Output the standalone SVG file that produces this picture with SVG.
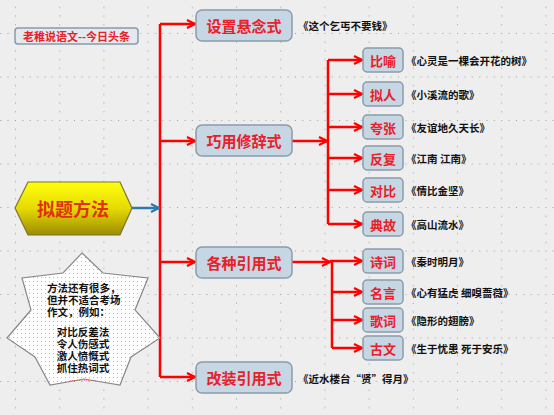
<svg xmlns="http://www.w3.org/2000/svg" width="554" height="415" viewBox="0 0 554 415">
<defs>
<pattern id="grid" patternUnits="userSpaceOnUse" x="15" y="33" width="44.2" height="43.5">
<rect x="0" y="0" width="1" height="1" fill="#9a9a9a"/>
<rect x="7.4" y="0" width="1" height="1" fill="#9a9a9a"/>
<rect x="14.7" y="0" width="1" height="1" fill="#9a9a9a"/>
<rect x="22.1" y="0" width="1" height="1" fill="#9a9a9a"/>
<rect x="29.5" y="0" width="1" height="1" fill="#9a9a9a"/>
<rect x="36.8" y="0" width="1" height="1" fill="#9a9a9a"/>
<rect x="0" y="8.7" width="1" height="1" fill="#9a9a9a"/>
<rect x="0" y="17.4" width="1" height="1" fill="#9a9a9a"/>
<rect x="0" y="26.1" width="1" height="1" fill="#9a9a9a"/>
<rect x="0" y="34.8" width="1" height="1" fill="#9a9a9a"/>
</pattern>
<pattern id="dots" patternUnits="userSpaceOnUse" width="4" height="4">
<rect width="4" height="4" fill="#ffffff"/>
<rect x="1" y="1" width="1" height="1" fill="#b8b8b8"/>
</pattern>
<linearGradient id="hex" x1="0" y1="0" x2="0" y2="1">
<stop offset="0" stop-color="#ffff10"/>
<stop offset="0.5" stop-color="#e6da00"/>
<stop offset="1" stop-color="#9c8c00"/>
</linearGradient>
<marker id="ar" viewBox="0 0 10 10" refX="9" refY="5" markerWidth="10" markerHeight="10" markerUnits="userSpaceOnUse" orient="auto">
<path d="M1,1 L9,5 L1,9" fill="none" stroke="#ff0000" stroke-width="2.2"/>
</marker>
<marker id="arb" viewBox="0 0 10 10" refX="9" refY="5" markerWidth="10" markerHeight="10" markerUnits="userSpaceOnUse" orient="auto">
<path d="M1,1 L9,5 L1,9" fill="none" stroke="#2a7ab8" stroke-width="2.2"/>
</marker>
</defs>
<style>
.box{fill:#c6d6e2;stroke:#8a9caa;stroke-width:1.5}
.bt{font-family:"Noto Sans CJK SC",sans-serif;font-weight:bold;font-size:15px;fill:#e8202a;text-anchor:middle;dominant-baseline:central}
.st{font-family:"Noto Sans CJK SC",sans-serif;font-weight:bold;font-size:13px;fill:#e8202a;text-anchor:middle;dominant-baseline:central}
.dt{font-family:"Noto Sans CJK SC",sans-serif;font-weight:bold;font-size:10.5px;fill:#111111;dominant-baseline:central}
.red{fill:none;stroke:#ff0000;stroke-width:2.5}
.star{font-family:"Liberation Sans","Noto Sans CJK SC",sans-serif;font-weight:bold;font-size:10.5px;fill:#111111;dominant-baseline:central}
</style>
<rect width="554" height="415" fill="#eeeeee"/>
<rect width="554" height="415" fill="url(#grid)"/>

<g id="connectors">
<path class="red" d="M160,24 V377"/>
<path class="red" d="M160,24 H195" marker-end="url(#ar)"/>
<path class="red" d="M160,141 H195" marker-end="url(#ar)"/>
<path class="red" d="M160,262 H195" marker-end="url(#ar)"/>
<path class="red" d="M160,377 H195" marker-end="url(#ar)"/>
<path d="M132,208 H159" fill="none" stroke="#2a7ab8" stroke-width="2.5" marker-end="url(#arb)"/>
<path class="red" d="M292,141 H327" marker-end="url(#ar)"/>
<path class="red" d="M328,60 V224"/>
<path class="red" d="M328,60 H362" marker-end="url(#ar)"/>
<path class="red" d="M328,94 H362" marker-end="url(#ar)"/>
<path class="red" d="M328,127 H362" marker-end="url(#ar)"/>
<path class="red" d="M328,158 H362" marker-end="url(#ar)"/>
<path class="red" d="M328,190 H362" marker-end="url(#ar)"/>
<path class="red" d="M328,224 H362" marker-end="url(#ar)"/>
<path class="red" d="M292,262 H330" marker-end="url(#ar)"/>
<path class="red" d="M330,261 H362" marker-end="url(#ar)"/>
<path class="red" d="M332,261 V348"/>
<path class="red" d="M332,292 H362" marker-end="url(#ar)"/>
<path class="red" d="M332,320 H362" marker-end="url(#ar)"/>
<path class="red" d="M332,348 H362" marker-end="url(#ar)"/>
</g>

<g id="title">
<rect x="15" y="28" width="123" height="16" rx="3" fill="#e4e9ee" stroke="#8a9aa8" stroke-width="1.5"/>
<text x="76.5" y="36" font-family="Noto Sans CJK SC,sans-serif" font-weight="bold" font-size="11px" fill="#e8202a" text-anchor="middle" dominant-baseline="central">老稚说语文--今日头条</text>
</g>

<g id="main">
<polygon points="15,208 28,182 120,182 132,208 120,235 28,235" fill="url(#hex)" stroke="#7a7430" stroke-width="1.2"/>
<text x="73" y="208" font-family="Noto Sans CJK SC,sans-serif" font-weight="bold" font-size="18px" fill="#e03010" text-anchor="middle" dominant-baseline="central">拟题方法</text>
</g>

<g id="n1">
<rect class="box" x="196" y="10" width="96" height="31" rx="6"/>
<text class="bt" x="244" y="25.5">设置悬念式</text>
<text class="dt" x="298" y="25">《这个乞丐不要钱》</text>
</g>
<g id="n2">
<rect class="box" x="196" y="125" width="96" height="31" rx="6"/>
<text class="bt" x="244" y="140.5">巧用修辞式</text>
</g>
<g id="n3">
<rect class="box" x="196" y="247" width="96" height="31" rx="6"/>
<text class="bt" x="244" y="262.5">各种引用式</text>
</g>
<g id="n4">
<rect class="box" x="196" y="362" width="96" height="31" rx="6"/>
<text class="bt" x="244" y="377.5">改装引用式</text>
<text class="dt" x="298" y="378">《近水楼台“贤”得月》</text>
</g>

<g id="s1"><rect class="box" x="363" y="48" width="40" height="24" rx="4"/><text class="st" x="383" y="60">比喻</text><text class="dt" x="406" y="60">《心灵是一棵会开花的树》</text></g>
<g id="s2"><rect class="box" x="363" y="82" width="40" height="24" rx="4"/><text class="st" x="383" y="94">拟人</text><text class="dt" x="406" y="94">《小溪流的歌》</text></g>
<g id="s3"><rect class="box" x="363" y="115" width="40" height="24" rx="4"/><text class="st" x="383" y="127">夸张</text><text class="dt" x="406" y="127">《友谊地久天长》</text></g>
<g id="s4"><rect class="box" x="363" y="146" width="40" height="24" rx="4"/><text class="st" x="383" y="158">反复</text><text class="dt" x="406" y="158">《江南 江南》</text></g>
<g id="s5"><rect class="box" x="363" y="178" width="40" height="24" rx="4"/><text class="st" x="383" y="190">对比</text><text class="dt" x="406" y="190">《情比金坚》</text></g>
<g id="s6"><rect class="box" x="363" y="212" width="40" height="24" rx="4"/><text class="st" x="383" y="224">典故</text><text class="dt" x="406" y="224">《高山流水》</text></g>
<g id="s7"><rect class="box" x="363" y="249" width="40" height="24" rx="4"/><text class="st" x="383" y="261">诗词</text><text class="dt" x="406" y="261">《秦时明月》</text></g>
<g id="s8"><rect class="box" x="363" y="280" width="40" height="24" rx="4"/><text class="st" x="383" y="292">名言</text><text class="dt" x="406" y="292">《心有猛虎 细嗅蔷薇》</text></g>
<g id="s9"><rect class="box" x="363" y="308" width="40" height="24" rx="4"/><text class="st" x="383" y="320">歌词</text><text class="dt" x="406" y="320">《隐形的翅膀》</text></g>
<g id="s10"><rect class="box" x="363" y="336" width="40" height="24" rx="4"/><text class="st" x="383" y="348">古文</text><text class="dt" x="406" y="348">《生于忧患 死于安乐》</text></g>

<g id="note">
<polygon points="82,253 103,273 148,278 135,310 160,338 131,357 120,385 84,379 50,385 35,357 7,338 31,310 22,278 63,273" fill="url(#dots)" stroke="#888888" stroke-width="1.2"/>
<text class="star" x="47" y="288">方法还有很多，</text>
<text class="star" x="47" y="300">但并不适合考场</text>
<text class="star" x="47" y="312">作文，例如：</text>
<text class="star" x="83" y="332" text-anchor="middle" fill="#ff0000">对比反差法</text>
<text class="star" x="83" y="344" text-anchor="middle">令人伤感式</text>
<text class="star" x="83" y="356" text-anchor="middle" fill="#ff0000">激人愤慨式</text>
<text class="star" x="83" y="368" text-anchor="middle">抓住热词式</text>
<text x="83" y="378" text-anchor="middle" fill="#ff0000" font-family="Liberation Sans,sans-serif" font-size="7px" dominant-baseline="central">…………</text>
</g>
</svg>
